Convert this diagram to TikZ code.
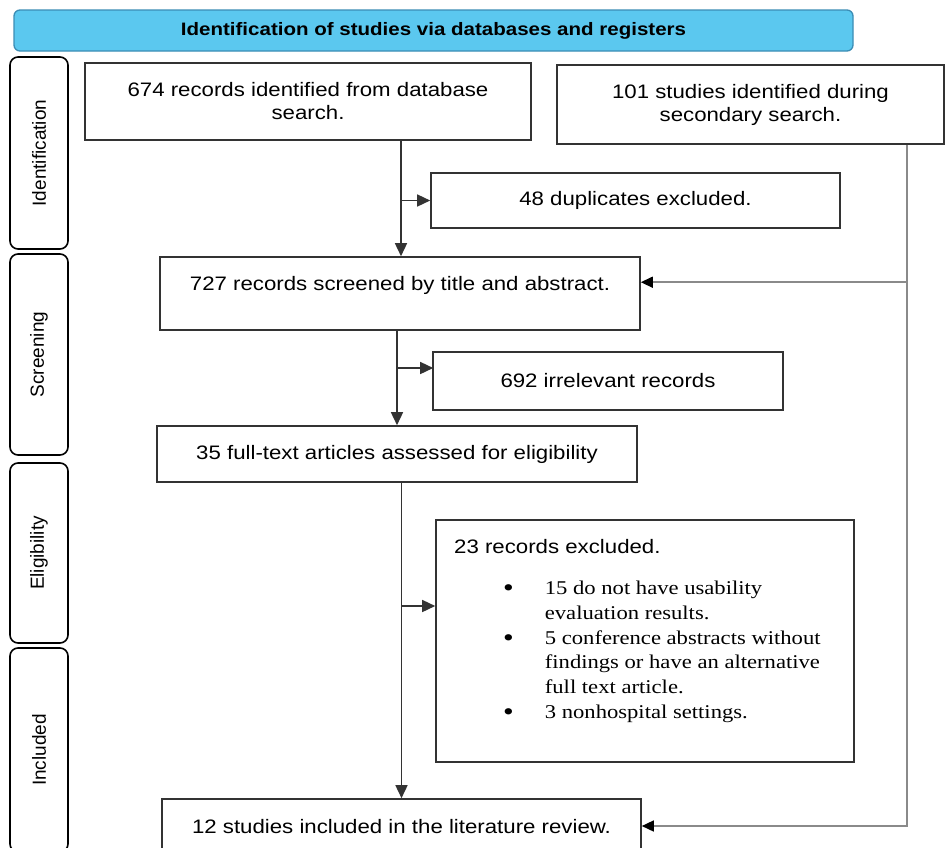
\documentclass[tikz,border=0pt]{standalone}
\usepackage{fontspec}
\setmainfont{Liberation Sans}[FakeStretch=1.14]
\newfontfamily\serifw{Liberation Serif}[FakeStretch=1.16]
\newfontfamily\sidef{Liberation Sans}
\usetikzlibrary{arrows.meta}
\definecolor{hdrfill}{HTML}{5BC8EF}
\definecolor{hdrline}{HTML}{3B8DB5}
\definecolor{boxline}{HTML}{333333}
\definecolor{rline}{HTML}{8A8A8A}
\newcommand{\bigdot}{\raisebox{-2.2pt}{\scalebox{1.35}{\textbullet}}}
\tikzset{
  box/.style={draw=boxline, line width=1.6pt, rectangle, inner sep=0pt, align=center,
    font=\fontsize{19.5}{23}\selectfont},
  sidebox/.style={draw=black, line width=1.6pt, rounded corners=8pt, rotate=90, inner sep=0pt,
    font=\sidef\fontsize{19}{22}\selectfont},
  arr/.style={draw=boxline, line width=1.5pt, -{Triangle[length=13pt,width=12pt]}},
  rln/.style={draw=rline, line width=1.5pt},
  rarr/.style={draw=rline, line width=1.5pt, -{Triangle[length=12pt,width=11pt,color=black]}},
}
\begin{document}
\begin{tikzpicture}[x=1pt,y=-1pt]
\useasboundingbox (0,0) rectangle (946,847);
\clip (0,0) rectangle (946,847);
\fill[white] (0,0) rectangle (946,847);
% header
\node[draw=hdrline, fill=hdrfill, line width=1.3pt, rounded corners=6pt, minimum width=839pt, minimum height=41pt,
  font=\bfseries\fontsize{18}{21}\selectfont] (hdr) at (433.5,30.5) {Identification of studies via databases and registers};
% side labels
\node[sidebox, minimum width=192pt, minimum height=58pt] (sId) at (39,153) {Identification};
\node[sidebox, minimum width=201pt, minimum height=58pt] (sSc) at (39,354.5) {Screening};
\node[sidebox, minimum width=180pt, minimum height=58pt] (sEl) at (39,553) {Eligibility};
\node[sidebox, minimum width=204pt, minimum height=58pt] (sIn) at (39,750) {Included};
% boxes
\node[box, minimum width=446pt, minimum height=77pt] (A) at (308,101.5) {674 records identified from database\\search.};
\node[box, minimum width=387pt, minimum height=79pt] (B) at (750.5,104.5) {101 studies identified during\\secondary search.};
\node[box, minimum width=409pt, minimum height=55pt] (C) at (635.5,200.5) {48 duplicates excluded.};
\node[box, minimum width=480pt, minimum height=73pt] (scr) at (400,293.5) {727 records screened by title and abstract.\\[-10pt]\strut};
\node[box, minimum width=350pt, minimum height=58pt] (irr) at (608,381) {692 irrelevant records};
\node[box, minimum width=480pt, minimum height=56pt] (elig) at (397,454) {35 full-text articles assessed for eligibility};
\node[box, minimum width=418pt, minimum height=242pt] (excl) at (645,641) {};
\node[box, minimum width=479pt, minimum height=56pt] (inc) at (401.5,827) {12 studies included in the literature review.};
% excluded content
\node[anchor=west, inner sep=0pt, font=\fontsize{19.5}{23}\selectfont] (exh) at (454,547) {23 records excluded.};
\node[anchor=north west, inner sep=0pt, font=\serifw\fontsize{19.5}{24.8}\selectfont] (exl) at (503,577) {%
\begin{tabular}{@{}c@{\hspace{31pt}}l@{}}
\bigdot & 15 do not have usability\\
 & evaluation results.\\
\bigdot & 5 conference abstracts without\\
 & findings or have an alternative\\
 & full text article.\\
\bigdot & 3 nonhospital settings.
\end{tabular}};
% connectors
\coordinate (rx) at (907,0);
\coordinate (ax) at (401,0);
\draw[arr] (A.south -| ax) -- (scr.north -| ax);
\draw[arr] (C.west -| ax) -- (C.west);
\draw[arr] (scr.south -| elig.north) -- (elig.north);
\draw[arr] ([yshift=13pt]irr.west -| elig.north) -- ([xshift=1pt,yshift=13pt]irr.west);
\draw[arr] (elig.south -| inc.north) -- (inc.north);
\draw[arr] ([yshift=35pt]excl.west -| inc.north) -- ([yshift=35pt]excl.west);
\draw[rln] (B.south -| rx) -- (inc.east -| rx);
\draw[rarr] ([yshift=-26pt]scr.north east -| rx) -- ([yshift=-26pt]scr.north east);
\draw[rarr] ([yshift=1pt]inc.east -| rx) -- ([yshift=1pt]inc.east);
\end{tikzpicture}
\end{document}
